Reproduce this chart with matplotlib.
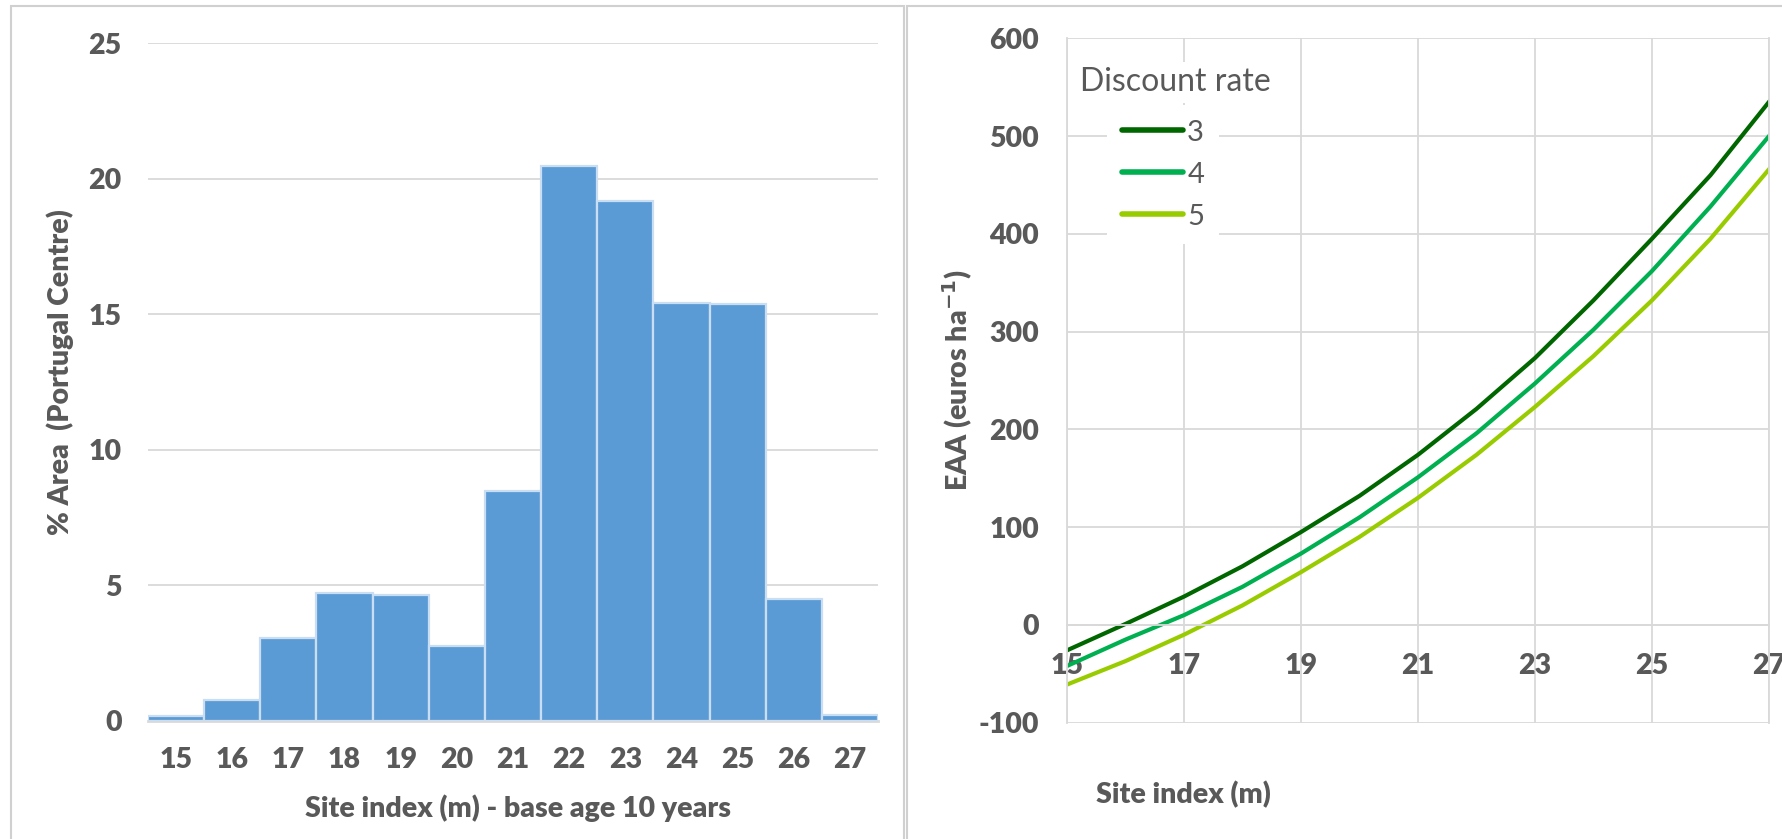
import matplotlib.pyplot as plt
from matplotlib import font_manager
from matplotlib.lines import Line2D
from matplotlib.patches import Rectangle

# histogram of site index classes
site_bins = [15, 16, 17, 18, 19, 20, 21, 22, 23, 24, 25, 26, 27]
area_pct = [0.17, 0.75, 3.07, 4.72, 4.65, 2.75, 8.47, 20.48, 19.18, 15.42, 15.39, 4.48, 0.2]

# equivalent annual annuity by discount rate
site_index = [15, 16, 17, 18, 19, 20, 21, 22, 23, 24, 25, 26, 27]
eaa_3 = [-26, 1, 29, 60, 95, 132, 174, 221, 273, 332, 395, 460, 535]
eaa_4 = [-42, -15, 10, 39, 73, 110, 151, 196, 247, 302, 362, 428, 500]
eaa_5 = [-61, -37, -10, 20, 54, 90, 130, 174, 223, 275, 332, 395, 466]
rate_labels = ['3', '4', '5']
rate_colors = ['#006600', '#00B050', '#99CC00']

# pick a family that actually ships a bold face
fam = 'Open Sans'
for name in ['Lato', 'Open Sans', 'Noto Sans']:
    bold = [f for f in font_manager.fontManager.ttflist
            if f.name == name and f.weight in (700, 800, 900, 'bold', 'heavy', 'black')]
    if bold:
        fam = name
        break
plt.rcParams['font.family'] = [fam, 'DejaVu Sans']
plt.rcParams['axes.unicode_minus'] = False
txt = '#595959'
grid_c = '#D9D9D9'
fw = 'heavy'
fs = 20.5

W, H = 1783, 839
fig = plt.figure(figsize=(W / 100, H / 100), dpi=100)

# panel frames
fig.patches.append(Rectangle((11 / W, -0.1), (904 - 11) / W, 1.1 - 6 / H,
                             transform=fig.transFigure, fill=False,
                             edgecolor='#D0D0D0', lw=1.5))
fig.patches.append(Rectangle((907 / W, -0.1), 1.0, 1.1 - 6 / H,
                             transform=fig.transFigure, fill=False,
                             edgecolor='#D0D0D0', lw=1.5))

# ---- left: histogram
ax1 = fig.add_axes([148 / W, 1 - 720.7 / H, 730 / W, 677.4 / H])
ax1.bar(site_bins, area_pct, width=1.0, color='#5B9BD5',
        edgecolor='#C9DEF2', linewidth=1.6, zorder=3)
ax1.set_xlim(14.5, 27.5)
ax1.set_ylim(0, 25)
ax1.set_yticks([0, 5, 10, 15, 20, 25])
ax1.set_xticks(site_bins)
ax1.grid(axis='y', color=grid_c, lw=1.3)
ax1.set_axisbelow(True)
for s in ['top', 'right', 'left']:
    ax1.spines[s].set_visible(False)
ax1.spines['bottom'].set_color(grid_c)
ax1.spines['bottom'].set_linewidth(2)
ax1.tick_params(length=0, labelsize=fs, labelcolor=txt, pad=19)
for lab in ax1.get_xticklabels() + ax1.get_yticklabels():
    lab.set_fontweight(fw)
fig.text(518 / W, 1 - 808 / H, 'Site index (m) - base age 10 years',
         ha='center', va='center', fontsize=fs, fontweight=fw, color=txt)
fig.text(60 / W, 1 - 372 / H, '% Area  (Portugal Centre)', rotation=90,
         ha='center', va='center', fontsize=fs, fontweight=fw, color=txt)

# ---- right: EAA curves
ax2 = fig.add_axes([1067 / W, 1 - 722.7 / H, 702 / W, 684.4 / H])
for vals, c in zip([eaa_3, eaa_4, eaa_5], rate_colors):
    ax2.plot(site_index, vals, color=c, lw=3, zorder=2)
ax2.set_xlim(15, 27)
ax2.set_ylim(-100, 600)
ax2.set_xticks([15, 17, 19, 21, 23, 25, 27])
ax2.set_yticks(range(-100, 601, 100))
ax2.grid(True, color=grid_c, lw=1.3)
for s in ['top', 'right', 'left']:
    ax2.spines[s].set_color(grid_c)
    ax2.spines[s].set_linewidth(1.3)
ax2.spines['top'].set_visible(False)
ax2.spines['bottom'].set_position(('data', 0))
ax2.spines['bottom'].set_color(grid_c)
ax2.spines['bottom'].set_linewidth(1.3)
ax2.tick_params(length=0, labelsize=fs, labelcolor=txt, pad=20)
for lab in ax2.get_xticklabels() + ax2.get_yticklabels():
    lab.set_fontweight(fw)
fig.text(1183 / W, 1 - 795 / H, 'Site index (m)', ha='center', va='center',
         fontsize=fs, fontweight=fw, color=txt)
fig.text(958 / W, 1 - 380 / H, 'EAA (euros ha$^{\\mathbf{-1}}$)', rotation=90,
         ha='center', va='center', fontsize=fs, fontweight=fw, color=txt)

ax2.text(0.0185, 0.936, 'Discount rate', transform=ax2.transAxes,
         ha='left', va='center', fontsize=23, color=txt, zorder=6,
         bbox=dict(facecolor='white', edgecolor='none', pad=4))
handles = [Line2D([], [], color=c, lw=4, solid_capstyle='round') for c in rate_colors]
leg = ax2.legend(handles, rate_labels, loc='upper left',
                 bbox_to_anchor=(0.057, 0.9025), frameon=True, fancybox=False,
                 edgecolor='none', facecolor='white', framealpha=1,
                 fontsize=21, handlelength=2.1, handletextpad=0.15,
                 labelspacing=0.55, borderpad=0.5, borderaxespad=0)
for t in leg.get_texts():
    t.set_color(txt)

fig.savefig('out.png', dpi=100, facecolor='white')
